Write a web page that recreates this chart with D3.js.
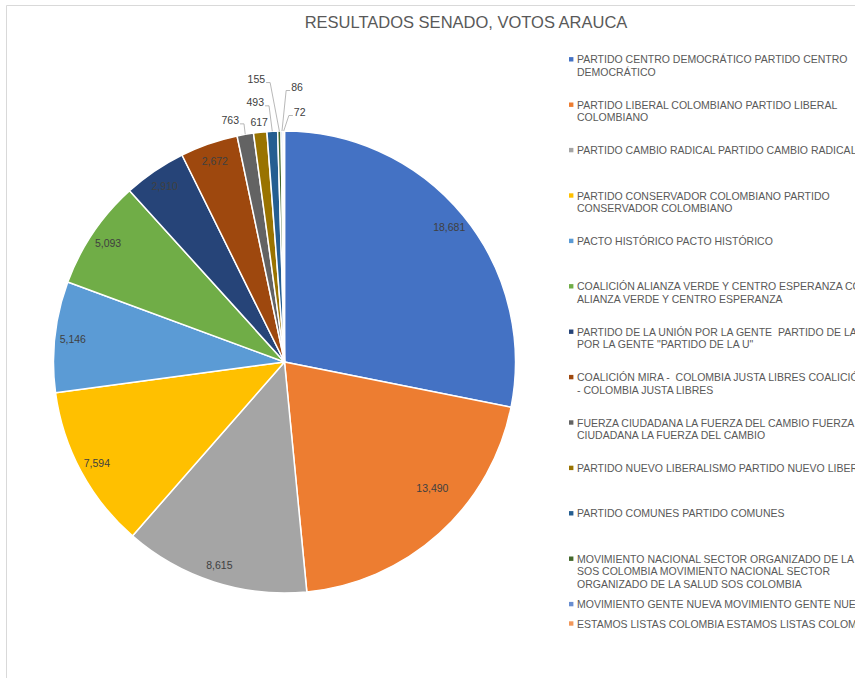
<!DOCTYPE html>
<html>
<head>
<meta charset="utf-8">
<script src="https://cdn.jsdelivr.net/npm/d3@7/dist/d3.min.js"></script>
<style>
  body { margin: 0; background: #fff; }
  svg text { font-family: "Liberation Sans", Arial, sans-serif; }
</style>
</head>
<body>
<div id="chart"></div>
<script>
// data
var categories = [
  "PARTIDO CENTRO DEMOCRÁTICO PARTIDO CENTRO\nDEMOCRÁTICO",
  "PARTIDO LIBERAL COLOMBIANO PARTIDO LIBERAL\nCOLOMBIANO",
  "PARTIDO CAMBIO RADICAL PARTIDO CAMBIO RADICAL",
  "PARTIDO CONSERVADOR COLOMBIANO PARTIDO\nCONSERVADOR COLOMBIANO",
  "PACTO HISTÓRICO PACTO HISTÓRICO",
  "COALICIÓN ALIANZA VERDE Y CENTRO ESPERANZA COALICIÓN\nALIANZA VERDE Y CENTRO ESPERANZA",
  "PARTIDO DE LA UNIÓN POR LA GENTE  PARTIDO DE LA UNIÓN\nPOR LA GENTE \"PARTIDO DE LA U\"",
  "COALICIÓN MIRA -  COLOMBIA JUSTA LIBRES COALICIÓN MIRA\n- COLOMBIA JUSTA LIBRES",
  "FUERZA CIUDADANA LA FUERZA DEL CAMBIO FUERZA\nCIUDADANA LA FUERZA DEL CAMBIO",
  "PARTIDO NUEVO LIBERALISMO PARTIDO NUEVO LIBERALISMO",
  "PARTIDO COMUNES PARTIDO COMUNES",
  "MOVIMIENTO NACIONAL SECTOR ORGANIZADO DE LA SALUD\nSOS COLOMBIA MOVIMIENTO NACIONAL SECTOR\nORGANIZADO DE LA SALUD SOS COLOMBIA",
  "MOVIMIENTO GENTE NUEVA MOVIMIENTO GENTE NUEVA",
  "ESTAMOS LISTAS COLOMBIA ESTAMOS LISTAS COLOMBIA"
];
var votes = [18681, 13490, 8615, 7594, 5146, 5093, 2910, 2672, 763, 617, 493, 155, 86, 72];
var colors = ["#4472C4", "#ED7D31", "#A5A5A5", "#FFC000", "#5B9BD5", "#70AD47", "#264478",
              "#9E480E", "#636363", "#997300", "#255E91", "#43682B", "#698ED0", "#F1975A"];
var title = "RESULTADOS SENADO, VOTOS ARAUCA";

// callout nudges for the thin slices (px from the slice's outer edge)
var calloutNudge = {8: [-15, -14], 9: [-1, -10], 10: [-17, -29], 11: [-23, -52], 12: [15, -44], 13: [16, -19]};
// best-fit shift Excel gave one inside label
var labelShift = {1: [5, -32]};

var W = 855, H = 678;
var cx = 284.5, cy = 362, R = 231;

var svg = d3.select("#chart").append("svg")
    .attr("width", W)
    .attr("height", H);

// chart frame (cut by the window on right and bottom)
svg.append("path")
    .attr("d", "M6.5," + (H + 5) + "V5.5H" + (W + 5))
    .attr("fill", "none")
    .attr("stroke", "#d9d9d9")
    .attr("stroke-width", 1);

svg.append("text")
    .attr("x", 466)
    .attr("y", 22)
    .attr("text-anchor", "middle")
    .attr("dominant-baseline", "central")
    .attr("font-size", "16.5px")
    .attr("fill", "#595959")
    .text(title);

var pie = d3.pie().sort(null).value(function(d){ return d; });
var arcs = pie(votes);

var arc = d3.arc().innerRadius(0).outerRadius(R);
var labelArc = d3.arc().innerRadius(213).outerRadius(213);
var edgeArc = d3.arc().innerRadius(R).outerRadius(R);

var g = svg.append("g").attr("transform", "translate(" + cx + "," + cy + ")");

g.selectAll("path.slice")
    .data(arcs)
    .enter()
    .append("path")
    .attr("class", "slice")
    .attr("d", arc)
    .attr("fill", function(d, i){ return colors[i]; })
    .attr("stroke", "#fff")
    .attr("stroke-width", 1.5)
    .attr("stroke-linejoin", "round");

var fmt = d3.format(",");

// labels inside the big slices
g.selectAll("text.inlabel")
    .data(arcs.filter(function(d){ return !(d.index in calloutNudge); }))
    .enter()
    .append("text")
    .attr("class", "inlabel")
    .attr("transform", function(d){
        var c = labelArc.centroid(d);
        var s = labelShift[d.index] || [0, 0];
        return "translate(" + (c[0] + s[0]) + "," + (c[1] + s[1]) + ")";
    })
    .attr("text-anchor", "middle")
    .attr("dominant-baseline", "central")
    .attr("font-size", "10.5px")
    .attr("fill", "#404040")
    .text(function(d){ return fmt(d.value); });

// callouts for the thin slices
arcs.forEach(function(d, i){
    if (!(i in calloutNudge)) return;
    var a = edgeArc.centroid(d);
    var lx = a[0] + calloutNudge[i][0], ly = a[1] + calloutNudge[i][1];
    var t = g.append("text")
        .attr("x", lx)
        .attr("y", ly)
        .attr("text-anchor", "middle")
        .attr("dominant-baseline", "central")
        .attr("font-size", "10.5px")
        .attr("fill", "#404040")
        .text(fmt(d.value));
    var hw = t.node().getComputedTextLength() / 2;
    var dist = Math.hypot(lx - a[0], ly - a[1]);
    if (dist < 12) return;
    var side = a[0] > lx ? 1 : -1;
    var sx = lx + side * (hw + 1), sy = ly + 3.5;
    var ex = sx + side * 4;
    g.append("polyline")
        .attr("points", [[sx, sy], [ex, sy], a].map(function(p){ return p.join(","); }).join(" "))
        .attr("fill", "none")
        .attr("stroke", "#a6a6a6")
        .attr("stroke-width", 0.8);
});

// legend
var legend = svg.append("g").attr("transform", "translate(569,0)");
var rowY = categories.map(function(c, i){
    return i < categories.length - 1 ? 59.3 + i * 45.4 : 59.3 + (i - 1) * 45.4 + 19.4;
});

var item = legend.selectAll("g.item")
    .data(categories)
    .enter()
    .append("g")
    .attr("class", "item")
    .attr("transform", function(d, i){ return "translate(0," + rowY[i] + ")"; });

item.append("rect")
    .attr("x", 0)
    .attr("y", -2.2)
    .attr("width", 4.4)
    .attr("height", 4.4)
    .attr("fill", function(d, i){ return colors[i]; });

item.append("text")
    .attr("font-size", "10.5px")
    .attr("fill", "#595959")
    .style("white-space", "pre")
    .selectAll("tspan")
    .data(function(d){ return d.split("\n"); })
    .enter()
    .append("tspan")
    .attr("x", 8)
    .attr("y", function(d, j){ return j * 12.5; })
    .attr("dominant-baseline", "central")
    .text(function(d){ return d; });
</script>
</body>
</html>
